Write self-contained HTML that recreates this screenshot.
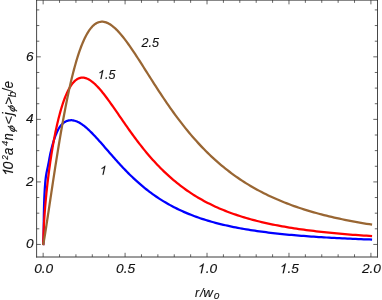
<!DOCTYPE html>
<html><head><meta charset="utf-8"><title>plot</title>
<style>
html,body{margin:0;padding:0;background:#fff;}
body{width:382px;height:300px;overflow:hidden;position:relative;}
svg{display:block;position:absolute;left:0;top:0;}
svg.t{will-change:transform;filter:grayscale(1);}
text{font-family:"Liberation Sans",sans-serif;font-style:italic;fill:#111;stroke:#111;stroke-width:0.12px;}
</style></head><body>
<svg width="382" height="300" viewBox="0 0 382 300">
<rect width="382" height="300" fill="#fff"/>
<g fill="none" stroke-linejoin="round" stroke-width="2.25">
<path stroke="#0000ff" d="M43.2,245.1 L43.30,244.10 L43.59,235.87 L43.67,231.20 L43.71,227.33 L43.75,223.90 L43.78,220.76 L43.82,217.83 L43.85,215.07 L43.90,212.45 L43.95,209.94 L44.00,207.53 L44.06,205.20 L44.13,202.95 L44.20,200.76 L44.28,198.63 L44.37,196.55 L44.47,194.52 L44.57,192.54 L44.68,190.60 L44.80,188.69 L44.93,186.83 L45.06,184.99 L45.21,183.19 L45.37,181.42 L45.54,179.68 L45.74,177.96 L45.97,176.27 L46.22,174.60 L46.51,172.96 L46.82,171.35 L47.16,169.75 L47.50,168.18 L47.84,166.63 L48.17,165.10 L48.47,163.59 L48.75,162.10 L49.02,160.64 L49.27,159.19 L49.53,157.76 L49.79,156.36 L50.07,154.97 L50.36,153.60 L50.66,152.26 L50.98,150.93 L51.30,149.63 L51.63,148.34 L51.96,147.08 L52.29,145.84 L52.62,144.62 L52.95,143.43 L53.29,142.25 L53.63,141.10 L53.98,139.97 L54.33,138.87 L54.70,137.79 L55.07,136.74 L55.46,135.71 L55.86,134.71 L56.27,133.74 L56.68,132.79 L57.09,131.88 L57.50,130.99 L57.92,130.13 L58.35,129.30 L58.80,128.51 L59.27,127.74 L59.75,127.01 L60.24,126.31 L60.76,125.65 L61.29,125.02 L61.84,124.43 L62.41,123.87 L62.99,123.35 L63.58,122.87 L64.19,122.42 L64.82,122.02 L65.45,121.66 L66.10,121.33 L66.76,121.05 L67.42,120.80 L68.10,120.60 L68.79,120.45 L69.48,120.33 L70.19,120.26 L70.91,120.23 L71.64,120.24 L72.38,120.30 L73.13,120.40 L73.89,120.55 L74.66,120.74 L75.44,120.98 L76.23,121.26 L77.03,121.58 L77.84,121.95 L78.66,122.36 L79.50,122.81 L80.34,123.31 L81.19,123.85 L82.06,124.43 L82.93,125.06 L83.82,125.72 L84.72,126.42 L85.62,127.17 L86.54,127.95 L87.47,128.77 L88.41,129.63 L89.36,130.52 L90.32,131.45 L91.29,132.41 L92.28,133.40 L93.27,134.42 L94.28,135.48 L95.29,136.56 L96.32,137.67 L97.36,138.81 L98.41,139.97 L99.47,141.16 L100.54,142.37 L101.62,143.60 L102.71,144.85 L103.81,146.11 L104.93,147.39 L106.06,148.69 L107.19,150.00 L108.34,151.33 L109.50,152.66 L110.67,154.01 L111.85,155.36 L113.05,156.72 L114.25,158.08 L115.47,159.45 L116.69,160.82 L117.93,162.20 L119.18,163.57 L120.44,164.94 L121.71,166.31 L123.00,167.68 L124.29,169.04 L125.60,170.40 L126.92,171.75 L128.25,173.09 L129.59,174.43 L130.94,175.75 L132.30,177.06 L133.68,178.37 L135.06,179.66 L136.46,180.94 L137.87,182.20 L139.29,183.46 L140.73,184.70 L142.17,185.92 L143.63,187.13 L145.09,188.32 L146.57,189.50 L148.06,190.66 L149.57,191.81 L151.08,192.93 L152.61,194.04 L154.14,195.14 L155.69,196.22 L157.25,197.27 L158.83,198.32 L160.41,199.34 L162.01,200.35 L163.61,201.34 L165.23,202.31 L166.87,203.26 L168.51,204.20 L170.16,205.12 L171.83,206.02 L173.51,206.90 L175.20,207.77 L176.91,208.62 L178.62,209.45 L180.35,210.27 L182.09,211.07 L183.84,211.86 L185.60,212.63 L187.37,213.38 L189.16,214.11 L190.96,214.83 L192.77,215.53 L194.59,216.22 L196.43,216.89 L198.27,217.55 L200.13,218.19 L202.00,218.81 L203.89,219.43 L205.78,220.02 L207.69,220.61 L209.61,221.18 L211.54,221.73 L213.49,222.27 L215.44,222.80 L217.41,223.32 L219.39,223.83 L221.38,224.32 L223.39,224.80 L225.41,225.27 L227.44,225.72 L229.48,226.17 L231.53,226.60 L233.60,227.03 L235.68,227.44 L237.77,227.84 L239.87,228.24 L241.99,228.62 L244.11,228.99 L246.26,229.36 L248.41,229.71 L250.57,230.06 L252.75,230.39 L254.94,230.72 L257.14,231.04 L259.36,231.35 L261.59,231.66 L263.83,231.96 L266.08,232.24 L268.34,232.53 L270.62,232.80 L272.91,233.07 L275.21,233.33 L277.53,233.58 L279.85,233.83 L282.19,234.07 L284.55,234.31 L286.91,234.53 L289.29,234.76 L291.68,234.97 L294.08,235.19 L296.50,235.39 L298.93,235.59 L301.37,235.79 L303.82,235.98 L306.29,236.17 L308.77,236.35 L311.26,236.53 L313.76,236.70 L316.28,236.87 L318.81,237.03 L321.35,237.19 L323.91,237.34 L326.47,237.50 L329.06,237.64 L331.65,237.79 L334.26,237.93 L336.87,238.07 L339.51,238.20 L342.15,238.33 L344.81,238.46 L347.48,238.58 L350.16,238.70 L352.86,238.82 L355.57,238.93 L358.29,239.04 L361.02,239.15 L363.77,239.26 L366.53,239.36 L369.31,239.46 L372.09,239.56"/>
<path stroke="#ff0000" d="M43.2,245.1 L43.30,244.10 L43.30,243.60 L43.31,242.84 L43.32,241.92 L43.33,240.89 L43.36,239.76 L43.38,238.55 L43.42,237.27 L43.46,235.93 L43.50,234.52 L43.56,233.07 L43.62,231.55 L43.68,230.00 L43.76,228.39 L43.84,226.74 L43.92,225.05 L44.02,223.33 L44.12,221.56 L44.23,219.76 L44.35,217.93 L44.47,216.06 L44.61,214.16 L44.75,212.23 L44.90,210.27 L45.05,208.28 L45.22,206.27 L45.39,204.23 L45.57,202.16 L45.76,200.07 L45.96,197.96 L46.17,195.82 L46.38,193.67 L46.60,191.49 L46.84,189.30 L47.07,187.09 L47.32,184.86 L47.58,182.62 L47.85,180.36 L48.12,178.09 L48.41,175.80 L48.70,173.51 L49.00,171.20 L49.31,168.89 L49.63,166.56 L49.96,164.24 L50.29,161.90 L50.64,159.57 L51.00,157.23 L51.36,154.89 L51.74,152.56 L52.12,150.22 L52.51,147.89 L52.91,145.57 L53.32,143.25 L53.75,140.94 L54.18,138.65 L54.62,136.36 L55.06,134.10 L55.52,131.84 L55.99,129.61 L56.47,127.40 L56.96,125.21 L57.46,123.04 L57.96,120.90 L58.48,118.79 L59.01,116.71 L59.54,114.66 L60.09,112.64 L60.65,110.66 L61.21,108.73 L61.79,106.83 L62.37,104.97 L62.97,103.16 L63.58,101.40 L64.19,99.69 L64.82,98.02 L65.45,96.41 L66.10,94.86 L66.76,93.36 L67.42,91.92 L68.10,90.54 L68.79,89.23 L69.48,87.97 L70.19,86.79 L70.91,85.67 L71.64,84.62 L72.38,83.64 L73.13,82.72 L73.89,81.89 L74.66,81.12 L75.44,80.43 L76.23,79.82 L77.03,79.28 L77.84,78.81 L78.66,78.43 L79.50,78.12 L80.34,77.88 L81.19,77.73 L82.06,77.65 L82.93,77.65 L83.82,77.73 L84.72,77.89 L85.62,78.12 L86.54,78.43 L87.47,78.81 L88.41,79.27 L89.36,79.79 L90.32,80.40 L91.29,81.07 L92.28,81.81 L93.27,82.62 L94.28,83.49 L95.29,84.44 L96.32,85.44 L97.36,86.50 L98.41,87.63 L99.47,88.81 L100.54,90.05 L101.62,91.34 L102.71,92.68 L103.81,94.07 L104.93,95.50 L106.06,96.98 L107.19,98.51 L108.34,100.07 L109.50,101.67 L110.67,103.31 L111.85,104.98 L113.05,106.68 L114.25,108.40 L115.47,110.16 L116.69,111.93 L117.93,113.73 L119.18,115.55 L120.44,117.38 L121.71,119.23 L123.00,121.09 L124.29,122.95 L125.60,124.83 L126.92,126.71 L128.25,128.59 L129.59,130.48 L130.94,132.37 L132.30,134.25 L133.68,136.13 L135.06,138.01 L136.46,139.88 L137.87,141.74 L139.29,143.59 L140.73,145.43 L142.17,147.26 L143.63,149.08 L145.09,150.88 L146.57,152.67 L148.06,154.44 L149.57,156.19 L151.08,157.93 L152.61,159.65 L154.14,161.34 L155.69,163.02 L157.25,164.68 L158.83,166.32 L160.41,167.94 L162.01,169.53 L163.61,171.10 L165.23,172.65 L166.87,174.18 L168.51,175.69 L170.16,177.17 L171.83,178.63 L173.51,180.06 L175.20,181.48 L176.91,182.87 L178.62,184.24 L180.35,185.58 L182.09,186.90 L183.84,188.20 L185.60,189.47 L187.37,190.72 L189.16,191.94 L190.96,193.14 L192.77,194.32 L194.59,195.47 L196.43,196.60 L198.27,197.71 L200.13,198.79 L202.00,199.85 L203.89,200.89 L205.78,201.90 L207.69,202.89 L209.61,203.87 L211.54,204.82 L213.49,205.75 L215.44,206.65 L217.41,207.54 L219.39,208.41 L221.38,209.26 L223.39,210.08 L225.41,210.89 L227.44,211.68 L229.48,212.46 L231.53,213.21 L233.60,213.95 L235.68,214.67 L237.77,215.37 L239.87,216.05 L241.99,216.72 L244.11,217.37 L246.26,218.01 L248.41,218.63 L250.57,219.24 L252.75,219.83 L254.94,220.41 L257.14,220.97 L259.36,221.52 L261.59,222.05 L263.83,222.58 L266.08,223.09 L268.34,223.58 L270.62,224.07 L272.91,224.54 L275.21,225.00 L277.53,225.45 L279.85,225.89 L282.19,226.32 L284.55,226.73 L286.91,227.14 L289.29,227.53 L291.68,227.92 L294.08,228.30 L296.50,228.66 L298.93,229.02 L301.37,229.37 L303.82,229.71 L306.29,230.04 L308.77,230.37 L311.26,230.68 L313.76,230.99 L316.28,231.29 L318.81,231.58 L321.35,231.86 L323.91,232.14 L326.47,232.41 L329.06,232.68 L331.65,232.93 L334.26,233.18 L336.87,233.43 L339.51,233.67 L342.15,233.90 L344.81,234.12 L347.48,234.35 L350.16,234.56 L352.86,234.77 L355.57,234.98 L358.29,235.18 L361.02,235.37 L363.77,235.56 L366.53,235.74 L369.31,235.93 L372.09,236.10"/>
<path stroke="#996633" d="M43.2,245.1 L43.30,244.10 L43.30,244.09 L43.31,244.07 L43.32,244.03 L43.33,243.96 L43.36,243.86 L43.38,243.73 L43.42,243.57 L43.46,243.36 L43.50,243.13 L43.56,242.85 L43.62,242.53 L43.68,242.17 L43.76,241.76 L43.84,241.31 L43.92,240.81 L44.02,240.26 L44.12,239.66 L44.23,239.02 L44.35,238.32 L44.47,237.57 L44.61,236.76 L44.75,235.90 L44.90,234.99 L45.05,234.01 L45.22,232.99 L45.39,231.90 L45.57,230.76 L45.76,229.55 L45.96,228.29 L46.17,226.97 L46.38,225.59 L46.60,224.14 L46.84,222.64 L47.07,221.07 L47.32,219.44 L47.58,217.75 L47.85,216.00 L48.12,214.18 L48.41,212.30 L48.70,210.36 L49.00,208.36 L49.31,206.30 L49.63,204.17 L49.96,201.99 L50.29,199.74 L50.64,197.44 L51.00,195.07 L51.36,192.65 L51.74,190.17 L52.12,187.63 L52.51,185.04 L52.91,182.39 L53.32,179.69 L53.75,176.94 L54.18,174.14 L54.62,171.29 L55.06,168.39 L55.52,165.45 L55.99,162.47 L56.47,159.44 L56.96,156.38 L57.46,153.28 L57.96,150.14 L58.48,146.98 L59.01,143.78 L59.54,140.57 L60.09,137.32 L60.65,134.06 L61.21,130.78 L61.79,127.49 L62.37,124.18 L62.97,120.87 L63.58,117.55 L64.19,114.24 L64.82,110.92 L65.45,107.62 L66.10,104.32 L66.76,101.04 L67.42,97.78 L68.10,94.53 L68.79,91.32 L69.48,88.13 L70.19,84.98 L70.91,81.86 L71.64,78.79 L72.38,75.76 L73.13,72.78 L73.89,69.86 L74.66,66.99 L75.44,64.18 L76.23,61.43 L77.03,58.75 L77.84,56.15 L78.66,53.62 L79.50,51.17 L80.34,48.79 L81.19,46.51 L82.06,44.31 L82.93,42.20 L83.82,40.18 L84.72,38.26 L85.62,36.43 L86.54,34.71 L87.47,33.08 L88.41,31.56 L89.36,30.15 L90.32,28.84 L91.29,27.64 L92.28,26.55 L93.27,25.57 L94.28,24.70 L95.29,23.94 L96.32,23.29 L97.36,22.76 L98.41,22.33 L99.47,22.02 L100.54,21.81 L101.62,21.72 L102.71,21.73 L103.81,21.86 L104.93,22.08 L106.06,22.42 L107.19,22.85 L108.34,23.39 L109.50,24.03 L110.67,24.77 L111.85,25.60 L113.05,26.53 L114.25,27.54 L115.47,28.65 L116.69,29.84 L117.93,31.12 L119.18,32.47 L120.44,33.90 L121.71,35.41 L123.00,36.99 L124.29,38.64 L125.60,40.36 L126.92,42.13 L128.25,43.97 L129.59,45.87 L130.94,47.81 L132.30,49.81 L133.68,51.86 L135.06,53.95 L136.46,56.08 L137.87,58.24 L139.29,60.45 L140.73,62.68 L142.17,64.95 L143.63,67.24 L145.09,69.56 L146.57,71.89 L148.06,74.25 L149.57,76.62 L151.08,79.00 L152.61,81.39 L154.14,83.79 L155.69,86.20 L157.25,88.61 L158.83,91.02 L160.41,93.44 L162.01,95.84 L163.61,98.25 L165.23,100.65 L166.87,103.04 L168.51,105.42 L170.16,107.79 L171.83,110.14 L173.51,112.48 L175.20,114.81 L176.91,117.12 L178.62,119.41 L180.35,121.68 L182.09,123.93 L183.84,126.16 L185.60,128.37 L187.37,130.55 L189.16,132.71 L190.96,134.85 L192.77,136.96 L194.59,139.04 L196.43,141.10 L198.27,143.13 L200.13,145.13 L202.00,147.11 L203.89,149.06 L205.78,150.98 L207.69,152.87 L209.61,154.73 L211.54,156.56 L213.49,158.37 L215.44,160.14 L217.41,161.89 L219.39,163.61 L221.38,165.30 L223.39,166.95 L225.41,168.58 L227.44,170.19 L229.48,171.76 L231.53,173.30 L233.60,174.82 L235.68,176.31 L237.77,177.77 L239.87,179.20 L241.99,180.60 L244.11,181.98 L246.26,183.33 L248.41,184.65 L250.57,185.95 L252.75,187.22 L254.94,188.47 L257.14,189.69 L259.36,190.88 L261.59,192.06 L263.83,193.20 L266.08,194.33 L268.34,195.42 L270.62,196.50 L272.91,197.55 L275.21,198.59 L277.53,199.59 L279.85,200.58 L282.19,201.55 L284.55,202.49 L286.91,203.42 L289.29,204.32 L291.68,205.21 L294.08,206.07 L296.50,206.92 L298.93,207.74 L301.37,208.55 L303.82,209.34 L306.29,210.11 L308.77,210.87 L311.26,211.61 L313.76,212.33 L316.28,213.04 L318.81,213.73 L321.35,214.40 L323.91,215.06 L326.47,215.70 L329.06,216.33 L331.65,216.95 L334.26,217.55 L336.87,218.14 L339.51,218.71 L342.15,219.27 L344.81,219.82 L347.48,220.35 L350.16,220.87 L352.86,221.39 L355.57,221.88 L358.29,222.37 L361.02,222.85 L363.77,223.31 L366.53,223.77 L369.31,224.21 L372.09,224.65"/>
</g>
<path d="M43.15,257.0v-4.2M43.15,0.15v4.2M59.54,257.0v-2.7M59.54,0.15v2.7M75.93,257.0v-2.7M75.93,0.15v2.7M92.31,257.0v-2.7M92.31,0.15v2.7M108.70,257.0v-2.7M108.70,0.15v2.7M125.09,257.0v-4.2M125.09,0.15v4.2M141.48,257.0v-2.7M141.48,0.15v2.7M157.87,257.0v-2.7M157.87,0.15v2.7M174.25,257.0v-2.7M174.25,0.15v2.7M190.64,257.0v-2.7M190.64,0.15v2.7M207.03,257.0v-4.2M207.03,0.15v4.2M223.42,257.0v-2.7M223.42,0.15v2.7M239.81,257.0v-2.7M239.81,0.15v2.7M256.19,257.0v-2.7M256.19,0.15v2.7M272.58,257.0v-2.7M272.58,0.15v2.7M288.97,257.0v-4.2M288.97,0.15v4.2M305.36,257.0v-2.7M305.36,0.15v2.7M321.75,257.0v-2.7M321.75,0.15v2.7M338.13,257.0v-2.7M338.13,0.15v2.7M354.52,257.0v-2.7M354.52,0.15v2.7M370.91,257.0v-4.2M370.91,0.15v4.2M36.6,244.45h4.2M377.5,244.45h-4.2M36.6,228.81h2.7M377.5,228.81h-2.7M36.6,213.18h2.7M377.5,213.18h-2.7M36.6,197.54h2.7M377.5,197.54h-2.7M36.6,181.91h4.2M377.5,181.91h-4.2M36.6,166.27h2.7M377.5,166.27h-2.7M36.6,150.64h2.7M377.5,150.64h-2.7M36.6,135.00h2.7M377.5,135.00h-2.7M36.6,119.37h4.2M377.5,119.37h-4.2M36.6,103.73h2.7M377.5,103.73h-2.7M36.6,88.10h2.7M377.5,88.10h-2.7M36.6,72.47h2.7M377.5,72.47h-2.7M36.6,56.83h4.2M377.5,56.83h-4.2M36.6,41.19h2.7M377.5,41.19h-2.7M36.6,25.56h2.7M377.5,25.56h-2.7M36.6,9.92h2.7M377.5,9.92h-2.7" stroke="#4a4a4a" stroke-width="0.85" fill="none"/>
<path d="M36.6,-0.25V257.5M377.5,-0.25V257.5M36.2,0.15H377.9" fill="none" stroke="#262626" stroke-width="0.85"/>
<path d="M36.18,257.0H377.92" fill="none" stroke="#3a3a3a" stroke-width="1.0"/>
</svg>
<svg class="t" width="382" height="300" viewBox="0 0 382 300">
<g font-size="13.7px"><text x="34.13" y="273.30" font-size="13.7px">0</text><text x="41.75" y="273.30" font-size="13.7px">.</text><text x="45.55" y="273.30" font-size="13.7px">0</text><text x="116.07" y="273.30" font-size="13.7px">0</text><text x="123.69" y="273.30" font-size="13.7px">.</text><text x="127.49" y="273.30" font-size="13.7px">5</text><path d="M763 0H583V1147Q518 1085 412.5 1023T223 930V1104Q374 1175 487 1276T647 1472H763Z" transform="translate(196.77,273.30) scale(1.000,1) skewX(-12) scale(0.00669,-0.00669)" fill="#111" stroke="#111" stroke-width="18"/><text x="205.63" y="273.30" font-size="13.7px">.</text><text x="209.43" y="273.30" font-size="13.7px">0</text><path d="M763 0H583V1147Q518 1085 412.5 1023T223 930V1104Q374 1175 487 1276T647 1472H763Z" transform="translate(278.71,273.30) scale(1.000,1) skewX(-12) scale(0.00669,-0.00669)" fill="#111" stroke="#111" stroke-width="18"/><text x="287.57" y="273.30" font-size="13.7px">.</text><text x="291.37" y="273.30" font-size="13.7px">5</text><text x="361.89" y="273.30" font-size="13.7px">2</text><text x="369.51" y="273.30" font-size="13.7px">.</text><text x="373.31" y="273.30" font-size="13.7px">0</text><text x="25.98" y="248.40" font-size="13.7px">0</text><text x="25.98" y="185.86" font-size="13.7px">2</text><text x="25.98" y="123.32" font-size="13.7px">4</text><text x="25.98" y="60.78" font-size="13.7px">6</text></g>
<path d="M763 0H583V1147Q518 1085 412.5 1023T223 930V1104Q374 1175 487 1276T647 1472H763Z" transform="translate(98.87,174.80) scale(1.000,1) skewX(-12) scale(0.00615,-0.00615)" fill="#111" stroke="#111" stroke-width="20"/><path d="M763 0H583V1147Q518 1085 412.5 1023T223 930V1104Q374 1175 487 1276T647 1472H763Z" transform="translate(96.77,79.00) scale(1.000,1) skewX(-12) scale(0.00615,-0.00615)" fill="#111" stroke="#111" stroke-width="20"/><text x="104.91" y="79.00" font-size="12.6px">.</text><text x="108.41" y="79.00" font-size="12.6px">5</text><text x="141.50" y="46.90" font-size="12.6px">2</text><text x="148.51" y="46.90" font-size="12.6px">.</text><text x="152.01" y="46.90" font-size="12.6px">5</text>
<text font-size="12.2px" transform="translate(194.94,296.90) scale(1.018,1)">r</text><text font-size="12.2px" transform="translate(200.00,296.90) scale(1.014,1)">/</text><text font-size="12.2px" transform="translate(203.23,296.90) scale(1.095,1)">w</text><text font-size="9.2px" transform="translate(213.67,298.80) scale(1.077,1)">0</text>
<g transform="translate(13.0,174.0) rotate(-90)"><path d="M763 0H583V1147Q518 1085 412.5 1023T223 930V1104Q374 1175 487 1276T647 1472H763Z" transform="translate(-2.82,0.00) scale(0.960,1) skewX(-12) scale(0.00698,-0.00698)" fill="#111" stroke="#111" stroke-width="17"/><text font-size="14.3px" transform="translate(4.58,0.00) scale(0.998,1)">0</text><text font-size="9.7px" transform="translate(14.25,-5.00) scale(0.866,1)">2</text><text font-size="14.3px" transform="translate(18.90,0.00) scale(0.924,1)">a</text><text font-size="9.5px" transform="translate(27.94,-5.40) scale(0.986,1)">4</text><text font-size="14.3px" transform="translate(33.38,0.00) scale(0.906,1)">n</text><text font-size="9.8px" transform="translate(41.13,2.00) scale(1.204,1) skewX(-14)">ϕ</text><text font-size="12.8px" transform="translate(49.50,0.30) scale(1.093,1)">&lt;</text><text font-size="14.3px" transform="translate(58.64,0.00) scale(0.901,1)">j</text><text font-size="9.8px" transform="translate(61.53,2.00) scale(1.204,1) skewX(-14)">ϕ</text><text font-size="12.8px" transform="translate(69.13,0.30) scale(1.061,1)">&gt;</text><text font-size="10.6px" transform="translate(76.66,3.00) scale(0.960,1)">b</text><text font-size="14.3px" transform="translate(82.57,0.00) scale(0.699,1)">/</text><text font-size="14.3px" transform="translate(85.54,0.00) scale(0.951,1)">e</text></g>
</svg>
</body></html>
